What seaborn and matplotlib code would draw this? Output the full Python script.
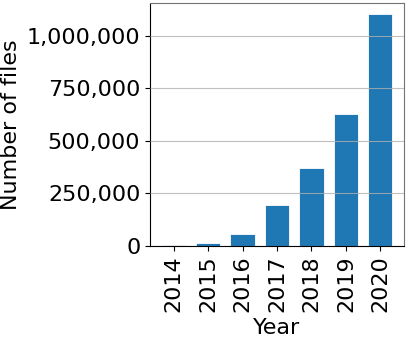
import matplotlib
matplotlib.use("Agg")
import matplotlib.pyplot as plt
import seaborn as sns
import pandas as pd

plt.rcParams["font.family"] = "DejaVu Sans"
plt.rcParams["font.size"] = 16

years = ["2014", "2015", "2016", "2017", "2018", "2019", "2020"]
n_files = [4000, 12000, 56000, 195000, 370000, 629000, 1103000]

df = pd.DataFrame({"Year": years, "files": n_files})

fig, ax = plt.subplots(figsize=(4.07, 3.39), dpi=100)
sns.barplot(data=df, x="Year", y="files", color="#1f77b4", saturation=1,
            width=0.7, edgecolor="white", linewidth=0.6, ax=ax)

ax.set_xlim(-0.685, 6.685)
ax.set_ylim(0, 1157000)
ax.set_yticks([0, 250000, 500000, 750000, 1000000])
ax.yaxis.set_major_formatter(lambda x, _: f"{x:,.0f}")
ax.tick_params(axis="x", labelrotation=90)
ax.yaxis.grid(True, color="#b0b0b0", linewidth=0.8, alpha=0.8)
ax.set_axisbelow(False)
for side in ["top", "right"]:
    ax.spines[side].set_color("0.45")
ax.set_xlabel("Year")
ax.set_ylabel("Number of files")

fig.subplots_adjust(left=0.3686, right=0.9926, bottom=0.2743, top=0.9912)
plt.savefig("out.png", dpi=100, facecolor="w")
